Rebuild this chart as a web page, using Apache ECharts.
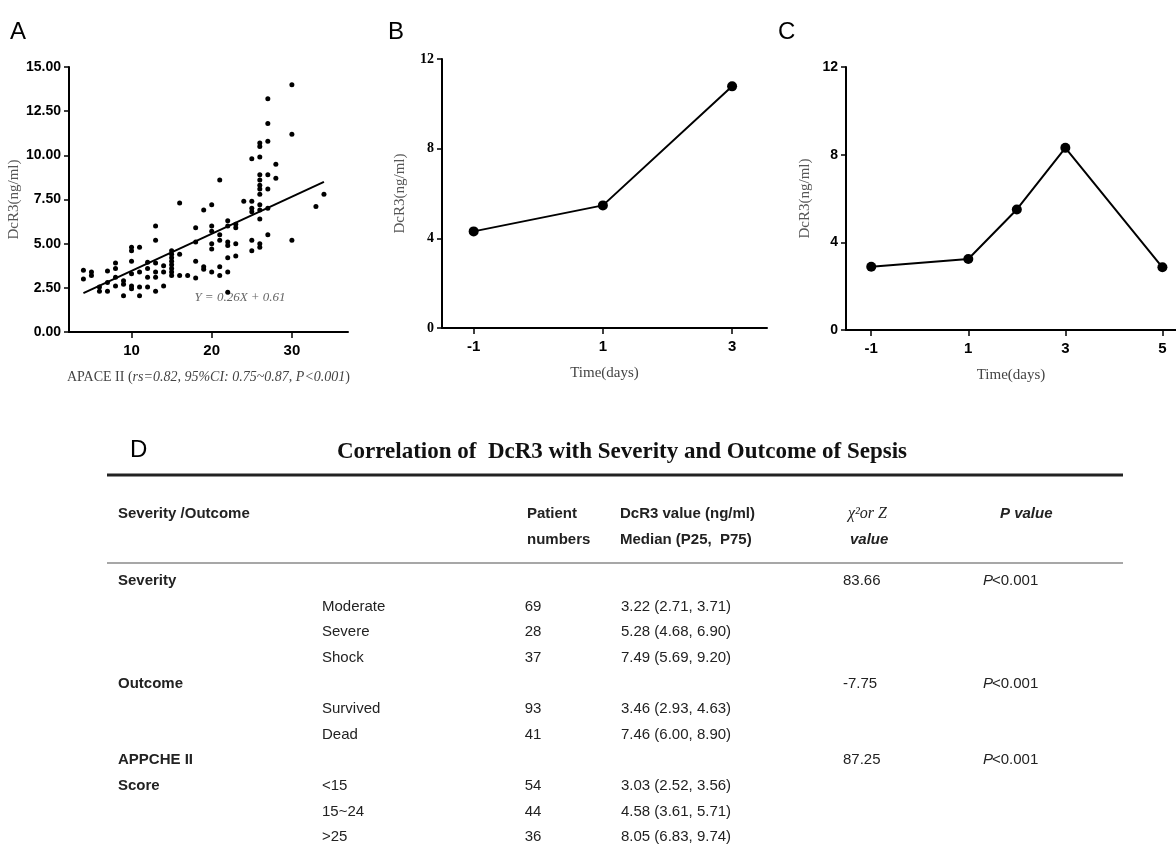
<!DOCTYPE html>
<html>
<head>
<meta charset="utf-8">
<script src="https://cdn.jsdelivr.net/npm/echarts@6/dist/echarts.min.js"></script>
<style>
html, body { margin: 0; padding: 0; background: #fff; }
#main { width: 1176px; height: 852px; }
</style>
</head>
<body>
<div id="main"></div>
<script>
// A: APACHE II score vs DcR3
var scatterA = [
    [4, 3.5], [4, 3.0], [5, 3.4], [5, 3.2], [6, 2.55], [6, 2.3],
    [7, 3.45], [7, 2.8], [7, 2.3], [8, 3.9], [8, 3.6], [8, 3.1], [8, 2.6],
    [9, 2.05], [9, 2.9], [9, 2.7],
    [10, 4.8], [10, 4.6], [10, 4.0], [10, 3.3], [10, 2.6], [10, 2.45],
    [11, 4.8], [11, 3.4], [11, 2.55], [11, 2.05],
    [12, 3.95], [12, 3.6], [12, 3.1], [12, 2.55],
    [13, 6.0], [13, 5.2], [13, 3.9], [13, 3.4], [13, 3.1], [13, 2.3],
    [14, 3.75], [14, 3.4], [14, 2.6],
    [15, 4.6], [15, 4.4], [15, 4.2], [15, 4.0], [15, 3.8], [15, 3.6], [15, 3.4], [15, 3.2],
    [16, 7.3], [16, 4.4], [16, 3.2], [17, 3.2],
    [18, 5.9], [18, 5.1], [18, 4.0], [18, 3.05],
    [19, 6.9], [19, 3.7], [19, 3.55],
    [20, 7.2], [20, 6.0], [20, 5.7], [20, 5.0], [20, 4.7], [20, 3.4],
    [21, 8.6], [21, 5.5], [21, 5.2], [21, 3.7], [21, 3.2],
    [22, 6.3], [22, 6.0], [22, 5.1], [22, 4.9], [22, 4.2], [22, 3.4], [22, 2.25],
    [23, 6.1], [23, 5.9], [23, 5.0], [23, 4.3],
    [24, 7.4],
    [25, 9.8], [25, 7.4], [25, 7.0], [25, 6.8], [25, 5.2], [25, 4.6],
    [26, 10.7], [26, 10.5], [26, 9.9], [26, 8.9], [26, 8.6], [26, 8.3], [26, 8.1],
    [26, 7.8], [26, 7.2], [26, 6.9], [26, 6.4], [26, 5.0], [26, 4.8],
    [27, 13.2], [27, 11.8], [27, 10.8], [27, 8.9], [27, 8.1], [27, 7.0], [27, 5.5],
    [28, 9.5], [28, 8.7],
    [30, 14.0], [30, 11.2], [30, 5.2],
    [33, 7.1], [34, 7.8]
];
var fitLineA = [[4, 2.2], [34, 8.5]];
var ticksA = [10, 20, 30];

// B and C: DcR3 over time
var daysB = [-1, 1, 3];
var dcr3B = [4.31, 5.47, 10.78];
var ticksB = [-1, 1, 3];
var daysC = [-1, 1, 2, 3, 5];
var dcr3C = [2.89, 3.24, 5.5, 8.31, 2.86];
var ticksC = [-1, 1, 3, 5];

// D: table
var tableGroup = ['Severity', '', '', '', 'Outcome', '', '', 'APPCHE II', 'Score', '', ''];
var tableSub = ['', 'Moderate', 'Severe', 'Shock', '', 'Survived', 'Dead', '', '<15', '15~24', '>25'];
var tableN = ['', '69', '28', '37', '', '93', '41', '', '54', '44', '36'];
var tableValue = ['', '3.22 (2.71, 3.71)', '5.28 (4.68, 6.90)', '7.49 (5.69, 9.20)', '',
    '3.46 (2.93, 4.63)', '7.46 (6.00, 8.90)', '', '3.03 (2.52, 3.56)', '4.58 (3.61, 5.71)', '8.05 (6.83, 9.74)'];
var tableStat = ['83.66', '', '', '', '-7.75', '', '', '87.25', '', '', ''];
var tableP = ['<0.001', '', '', '', '<0.001', '', '', '<0.001', '', '', ''];

function pairs(xs, ys) {
    var out = [];
    for (var i = 0; i < xs.length; i++) out.push([xs[i], ys[i]]);
    return out;
}

var narrow = '"Liberation Sans Narrow", "Liberation Sans", Arial, sans-serif';
var serif = '"Liberation Serif", "Times New Roman", serif';
var tableFont = '"Liberation Sans", Arial, sans-serif';

function yAxisCfg(gridIndex, max, interval, fmt, fontFamily, nameGap) {
    return {
        type: 'value', gridIndex: gridIndex, min: 0, max: max, interval: interval,
        name: 'DcR3(ng/ml)', nameLocation: 'middle', nameGap: nameGap,
        nameTextStyle: { fontFamily: serif, fontSize: 15, color: '#555' },
        axisLine: { show: true, onZero: false, lineStyle: { color: '#000', width: 2 } },
        axisTick: { show: true, length: 5, lineStyle: { color: '#000', width: 1.5 } },
        axisLabel: { margin: 8, color: '#000', fontWeight: 'bold', fontFamily: fontFamily, fontSize: 14, formatter: fmt },
        splitLine: { show: false }
    };
}

function xAxisCfg(gridIndex, min, max, ticks, name, nameRich) {
    var ax = {
        type: 'value', gridIndex: gridIndex, min: min, max: max,
        name: name, nameLocation: 'middle', nameGap: 38,
        nameTextStyle: { fontFamily: serif, fontSize: 15, color: '#444' },
        axisLine: { show: true, onZero: false, lineStyle: { color: '#000', width: 2 } },
        axisTick: { show: true, length: 6, customValues: ticks, lineStyle: { color: '#000', width: 1.5 } },
        axisLabel: { margin: 11, color: '#000', fontWeight: 'bold', fontFamily: narrow, fontSize: 15, customValues: ticks },
        splitLine: { show: false }
    };
    if (nameRich) ax.nameTextStyle.rich = nameRich;
    return ax;
}

// table graphics
var graphics = [];
function txt(x, y, text, style) {
    var s = { text: text, x: 0, y: 0, fill: '#222', font: '15px ' + tableFont, textVerticalAlign: 'middle' };
    for (var k in style) s[k] = style[k];
    graphics.push({ type: 'text', x: x, y: y, style: s });
}
var rowTop = 581, rowStep = 25.6;
graphics.push({ type: 'line', shape: { x1: 107, y1: 475, x2: 1123, y2: 475 }, style: { stroke: '#222', lineWidth: 3 } });
graphics.push({ type: 'line', shape: { x1: 107, y1: 563, x2: 1123, y2: 563 }, style: { stroke: '#8a8a8a', lineWidth: 1.5 } });
txt(10, 32, 'A', { font: '24px "Liberation Sans", Arial, sans-serif', fill: '#000' });
txt(388, 32, 'B', { font: '24px "Liberation Sans", Arial, sans-serif', fill: '#000' });
txt(778, 32, 'C', { font: '24px "Liberation Sans", Arial, sans-serif', fill: '#000' });
txt(130, 450, 'D', { font: '24px "Liberation Sans", Arial, sans-serif', fill: '#000' });
txt(622, 452, 'Correlation of  DcR3 with Severity and Outcome of Sepsis',
    { font: 'bold 23px ' + serif, fill: '#111', textAlign: 'center' });
txt(240, 298, 'Y = 0.26X + 0.61', { font: 'italic 13px ' + serif, fill: '#666', textAlign: 'center' });
var hb = 'bold 15px ' + tableFont;
txt(118, 514, 'Severity /Outcome', { font: hb });
txt(527, 514, 'Patient', { font: hb });
txt(527, 540, 'numbers', { font: hb });
txt(620, 514, 'DcR3 value (ng/ml)', { font: hb });
txt(620, 540, 'Median (P25,  P75)', { font: hb });
txt(848, 514, 'χ²or Z', { font: 'italic 16px ' + serif });
txt(850, 540, 'value', { font: 'italic bold 15px ' + tableFont });
txt(1000, 514, 'P value', { font: 'italic bold 15px ' + tableFont });
for (var i = 0; i < tableGroup.length; i++) {
    var y = rowTop + i * rowStep;
    if (tableGroup[i]) txt(118, y, tableGroup[i], { font: hb });
    if (tableSub[i]) txt(322, y, tableSub[i], {});
    if (tableN[i]) txt(533, y, tableN[i], { textAlign: 'center' });
    if (tableValue[i]) txt(621, y, tableValue[i], {});
    if (tableStat[i]) txt(843, y, tableStat[i], {});
    if (tableP[i]) {
        txt(983, y, 'P', { font: 'italic 15px ' + tableFont });
        txt(992, y, tableP[i], {});
    }
}

var chart = echarts.init(document.getElementById('main'));
var option = {
    backgroundColor: '#fff',
    animation: false,
    grid: [
        { left: 69, top: 67, width: 279, height: 265 },
        { left: 442, top: 59, width: 325, height: 269 },
        { left: 846, top: 67, width: 330, height: 263 }
    ],
    xAxis: [
        xAxisCfg(0, 2.2, 37, ticksA, '{n|APACE II (}{i|rs=0.82, 95%CI: 0.75~0.87, P<0.001}{n|)}', {
            n: { fontFamily: serif, fontSize: 14, color: '#444' },
            i: { fontFamily: serif, fontSize: 14, color: '#444', fontStyle: 'italic' }
        }),
        xAxisCfg(1, -1.49, 3.54, ticksB, 'Time(days)'),
        xAxisCfg(2, -1.52, 5.28, ticksC, 'Time(days)')
    ],
    yAxis: [
        yAxisCfg(0, 15, 2.5, function (v) { return v.toFixed(2); }, narrow, 47),
        yAxisCfg(1, 12, 4, null, serif, 34),
        yAxisCfg(2, 12, 4, null, narrow, 33)
    ],
    series: [
        {
            type: 'scatter', xAxisIndex: 0, yAxisIndex: 0, data: scatterA,
            symbolSize: 5, itemStyle: { color: '#000', opacity: 1 }
        },
        {
            type: 'line', xAxisIndex: 0, yAxisIndex: 0, data: fitLineA,
            showSymbol: false, lineStyle: { color: '#000', width: 2 }
        },
        {
            type: 'line', xAxisIndex: 1, yAxisIndex: 1, data: pairs(daysB, dcr3B),
            symbol: 'circle', symbolSize: 10, itemStyle: { color: '#000' }, lineStyle: { color: '#000', width: 2 }
        },
        {
            type: 'line', xAxisIndex: 2, yAxisIndex: 2, data: pairs(daysC, dcr3C),
            symbol: 'circle', symbolSize: 10, itemStyle: { color: '#000' }, lineStyle: { color: '#000', width: 2 }
        }
    ],
    graphic: graphics
};
chart.setOption(option);
</script>
</body>
</html>
